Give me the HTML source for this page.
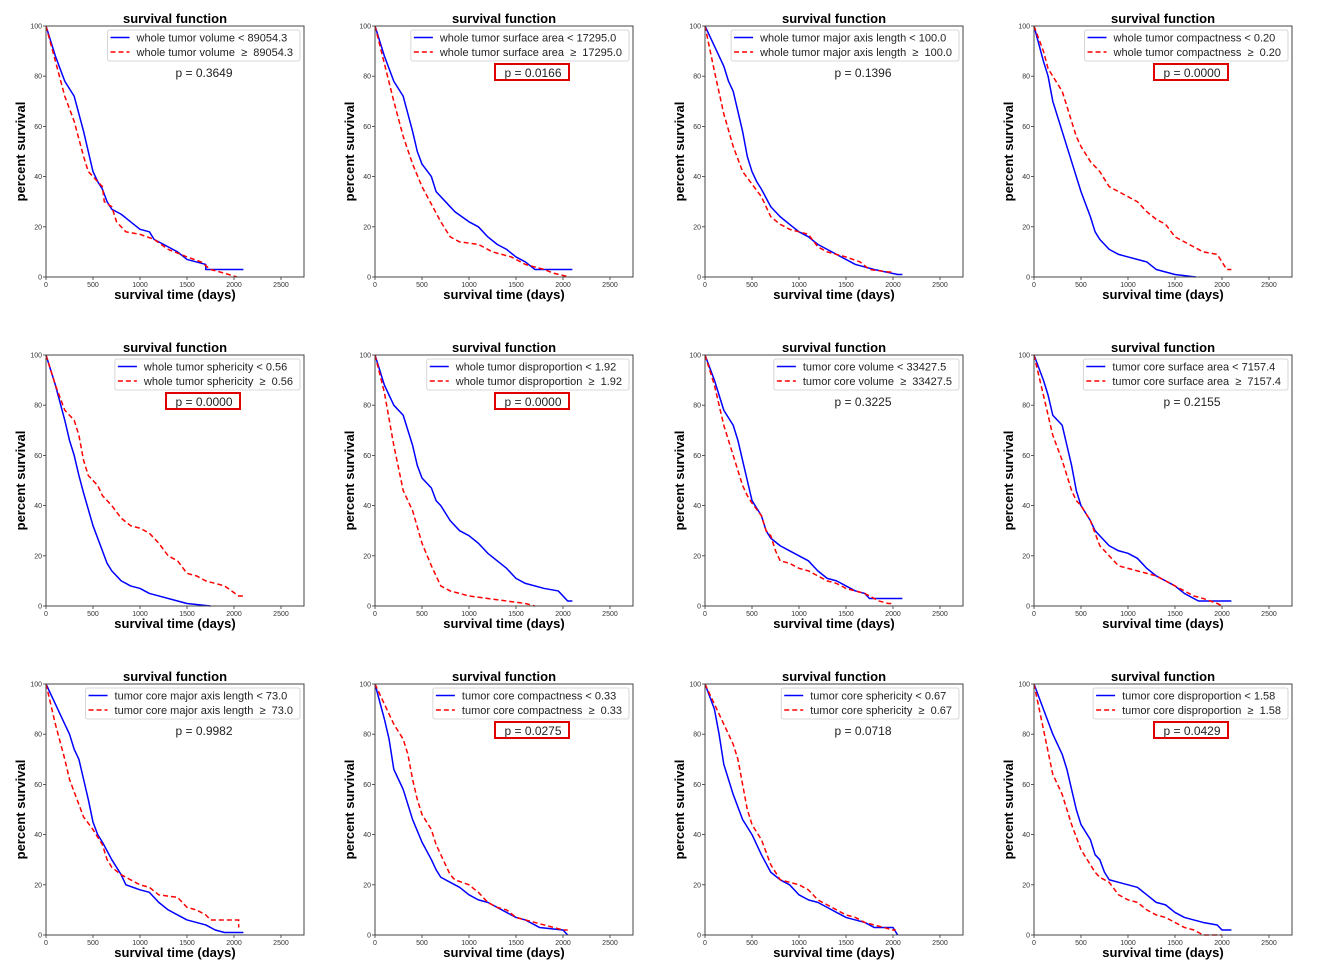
<!DOCTYPE html>
<html><head><meta charset="utf-8"><style>
body{margin:0;background:#fff;}
svg{display:block;font-family:"Liberation Sans","DejaVu Sans",sans-serif;}
</style></head><body>
<svg id="fig" width="1319" height="975" viewBox="0 0 1319 975"></svg>
<script>
const xTicks=[0,500,1000,1500,2000,2500];
const yTicks=[0,20,40,60,80,100];
const labelsLow=["whole tumor volume < 89054.3","whole tumor surface area < 17295.0","whole tumor major axis length < 100.0","whole tumor compactness < 0.20","whole tumor sphericity < 0.56","whole tumor disproportion < 1.92","tumor core volume < 33427.5","tumor core surface area < 7157.4","tumor core major axis length < 73.0","tumor core compactness < 0.33","tumor core sphericity < 0.67","tumor core disproportion < 1.58"];
const labelsHigh=["whole tumor volume  \u2265  89054.3","whole tumor surface area  \u2265  17295.0","whole tumor major axis length  \u2265  100.0","whole tumor compactness  \u2265  0.20","whole tumor sphericity  \u2265  0.56","whole tumor disproportion  \u2265  1.92","tumor core volume  \u2265  33427.5","tumor core surface area  \u2265  7157.4","tumor core major axis length  \u2265  73.0","tumor core compactness  \u2265  0.33","tumor core sphericity  \u2265  0.67","tumor core disproportion  \u2265  1.58"];
const pValues=["0.3649","0.0166","0.1396","0.0000","0.0000","0.0000","0.3225","0.2155","0.9982","0.0275","0.0718","0.0429"];
const significant=[false,true,false,true,true,true,false,false,false,true,false,true];
const blue1=[[0,100],[100,88],[200,78],[300,72],[350,65],[400,58],[450,50],[500,42],[550,38],[600,35],[650,30],[700,27],[800,25],[900,22],[1000,19],[1100,18],[1150,15],[1300,12],[1400,10],[1500,7],[1700,5],[1700,3],[2100,3]];
const red1=[[0,100],[100,86],[200,72],[300,62],[400,48],[450,42],[500,40],[600,36],[620,30],[700,28],[750,22],[850,18],[1000,17],[1150,15],[1300,11],[1500,8],[1650,6],[1750,3],[1900,1.5],[2030,0]];
const blue2=[[0,100],[100,88],[200,78],[300,72],[350,65],[400,58],[450,50],[500,45],[600,40],[650,34],[750,30],[850,26],[1000,22],[1100,20],[1200,16],[1300,13],[1400,11],[1500,8],[1600,6],[1700,3],[2100,3]];
const red2=[[0,100],[100,85],[200,70],[300,56],[400,45],[500,36],[600,29],[700,22],[800,16],[900,14],[1100,13],[1250,10],[1450,8],[1600,5],[1800,3],[1900,1.5],[2070,0]];
const blue3=[[0,100],[100,92],[200,84],[250,78],[300,74],[350,66],[400,58],[450,48],[500,42],[550,38],[600,35],[700,28],[800,24],[900,21],[1000,18],[1100,16],[1200,13],[1300,11],[1400,9],[1500,7],[1600,5],[1800,3],[2050,1],[2100,1]];
const red3=[[0,100],[100,82],[200,65],[300,52],[400,42],[500,37],[600,32],[700,24],[800,21],[900,19],[1100,17],[1200,12],[1300,10],[1500,8],[1650,6],[1750,3],[1950,2],[2000,2]];
const blue4=[[0,100],[100,86],[150,80],[200,70],[300,58],[400,46],[500,34],[600,24],[650,18],[700,15],[800,11],[900,9],[1000,8],[1200,6],[1300,3],[1500,1],[1720,0]];
const red4=[[0,100],[100,90],[150,83],[200,80],[300,74],[400,62],[450,56],[500,52],[600,46],[700,42],[800,36],[900,34],[1000,32],[1100,30],[1200,26],[1300,23],[1400,21],[1500,16],[1600,14],[1700,12],[1800,10],[1950,9],[2050,3],[2100,3]];
const blue5=[[0,100],[100,88],[200,74],[250,66],[300,60],[350,52],[400,45],[500,32],[600,22],[650,17],[700,14],[800,10],[900,8],[1000,7],[1100,5],[1200,4],[1400,2],[1500,1],[1750,0]];
const red5=[[0,100],[100,88],[200,78],[300,74],[350,68],[400,58],[450,52],[550,48],[600,44],[700,40],[800,35],[900,32],[1000,31],[1100,29],[1200,25],[1300,20],[1400,18],[1500,13],[1600,12],[1700,10],[1800,9],[1900,8],[2050,4],[2100,4]];
const blue6=[[0,100],[100,88],[200,80],[300,76],[400,64],[450,56],[500,51],[600,47],[650,42],[700,40],[800,34],[900,30],[1000,28],[1100,25],[1200,21],[1300,18],[1400,15],[1500,11],[1600,9],[1800,7],[1950,6],[2050,2],[2100,2]];
const red6=[[0,100],[100,85],[200,64],[250,55],[300,46],[400,38],[500,25],[600,16],[650,12],[700,8],[800,6],[1000,4],[1200,3],[1400,2],[1600,1],[1700,0]];
const blue7=[[0,100],[100,90],[200,78],[300,72],[350,66],[400,58],[450,50],[500,42],[600,36],[650,30],[700,27],[800,24],[900,22],[1000,20],[1100,18],[1200,14],[1300,11],[1400,10],[1500,8],[1600,6],[1700,5],[1750,3],[2100,3]];
const red7=[[0,100],[100,88],[200,72],[300,60],[400,48],[450,44],[500,41],[600,36],[650,30],[700,28],[750,22],[800,18],[900,17],[1000,15],[1100,14],[1200,12],[1300,10],[1400,9],[1500,7],[1600,6],[1700,5],[1850,2],[1950,1],[2000,1]];
const blue8=[[0,100],[100,90],[150,84],[200,76],[300,72],[350,64],[400,56],[450,46],[500,40],[600,34],[650,30],[700,28],[800,24],[900,22],[1000,21],[1100,19],[1200,15],[1300,12],[1400,10],[1500,8],[1600,5],[1750,2],[2100,2]];
const red8=[[0,100],[100,84],[200,68],[300,58],[400,46],[450,42],[500,40],[600,34],[700,24],[800,20],[900,16],[1000,15],[1100,14],[1200,13],[1300,12],[1400,10],[1500,8],[1600,6],[1700,4],[1800,3],[1950,1],[2000,0]];
const blue9=[[0,100],[100,92],[200,84],[250,80],[300,74],[350,70],[400,62],[450,54],[500,45],[550,40],[600,37],[700,30],[800,24],[850,20],[1000,18],[1100,17],[1200,13],[1300,10],[1400,8],[1500,6],[1600,5],[1700,4],[1800,2],[1900,1],[2100,1]];
const red9=[[0,100],[100,84],[200,70],[250,62],[300,57],[400,47],[500,42],[600,36],[650,30],[700,27],[800,24],[900,22],[1000,20],[1100,19],[1200,16],[1400,15],[1500,11],[1600,10],[1700,8],[1750,6],[2050,6],[2050,3]];
const blue10=[[0,100],[100,86],[150,78],[200,66],[250,62],[300,58],[400,46],[500,37],[600,30],[650,26],[700,23],[800,21],[900,19],[1000,16],[1100,14],[1200,13],[1300,11],[1400,9],[1500,7],[1600,6],[1750,3],[2000,2],[2050,0]];
const red10=[[0,100],[100,92],[200,84],[300,78],[350,72],[400,62],[450,54],[500,48],[600,42],[650,36],[700,32],[800,24],[850,22],[1000,20],[1100,17],[1200,13],[1300,11],[1400,10],[1500,7],[1600,6],[1700,5],[1800,4],[1900,3],[2000,2],[2050,2]];
const blue11=[[0,100],[100,90],[150,80],[200,68],[250,62],[300,56],[400,46],[500,40],[600,32],[700,25],[800,22],[900,20],[1000,16],[1100,14],[1200,13],[1300,11],[1400,9],[1500,7],[1600,6],[1700,5],[1800,3],[2000,3],[2050,0]];
const red11=[[0,100],[100,92],[200,84],[300,76],[350,70],[400,60],[450,50],[500,44],[600,38],[650,33],[700,28],[800,22],[900,21],[1000,20],[1100,18],[1200,14],[1300,12],[1400,10],[1500,8],[1600,7],[1700,5],[1800,4],[2000,2],[2030,2]];
const blue12=[[0,100],[100,90],[200,80],[300,72],[350,66],[400,58],[450,50],[500,44],[600,38],[650,32],[700,30],[750,25],[800,22],[900,21],[1000,20],[1100,19],[1200,16],[1300,13],[1400,12],[1500,9],[1600,7],[1800,5],[1950,4],[2000,2],[2100,2]];
const red12=[[0,100],[100,82],[200,64],[300,56],[350,50],[400,44],[500,34],[600,28],[650,25],[700,23],[800,21],[900,16],[1000,14],[1100,13],[1200,10],[1300,8],[1400,7],[1500,5],[1600,3],[1700,2],[1800,0],[2000,0]];
const blueSeries=[blue1,blue2,blue3,blue4,blue5,blue6,blue7,blue8,blue9,blue10,blue11,blue12];
const redSeries=[red1,red2,red3,red4,red5,red6,red7,red8,red9,red10,red11,red12];

const NS="http://www.w3.org/2000/svg";
const svg=document.getElementById('fig');
function mk(tag,attrs,parent){const e=document.createElementNS(NS,tag);for(const k in attrs)e.setAttribute(k,attrs[k]);(parent||svg).appendChild(e);return e;}
const colX=[46,375,705,1034], rowY=[26,355,684], W=258, H=251, XMAX=2745;
for(let i=0;i<12;i++){
  const ox=colX[i%4], oy=rowY[Math.floor(i/4)];
  const sx=t=>ox+t/XMAX*W, sy=v=>oy+H-v/100*H;
  const g=mk('g',{});
  
  
  const t=mk('text',{x:ox+W/2,y:oy-3,'text-anchor':'middle','font-size':13,'font-weight':'bold',fill:'#000'},g);
  t.textContent='survival function';
  
  
  const yl=mk('text',{x:0,y:0,transform:`translate(${ox-21},${oy+H/2}) rotate(-90)`,'text-anchor':'middle','font-size':13,'font-weight':'bold'},g);
  yl.textContent='percent survival';
  
  
  const xl=mk('text',{x:ox+W/2,y:oy+H+22,'text-anchor':'middle','font-size':13,'font-weight':'bold'},g);
  xl.textContent='survival time (days)';
  
  
  xTicks.forEach(v=>{mk('line',{x1:sx(v),x2:sx(v),y1:oy+H,y2:oy+H+3,stroke:'#333','stroke-width':0.8},g);
    const tl=mk('text',{x:sx(v),y:oy+H+10,'text-anchor':'middle','font-size':7,fill:'#333'},g);tl.textContent=v;
    
    });
  yTicks.forEach(v=>{mk('line',{x1:ox-3,x2:ox,y1:sy(v),y2:sy(v),stroke:'#333','stroke-width':0.8},g);
    const tl=mk('text',{x:ox-4,y:sy(v)+2.5,'text-anchor':'end','font-size':7,fill:'#333'},g);tl.textContent=v;
    
    });
  function linePath(d){let s=`M${sx(d[0][0])},${sy(d[0][1])}`;for(let k=1;k<d.length;k++)s+=`L${sx(d[k][0])},${sy(d[k][1])}`;return s;}
  const bp=mk('path',{d:linePath(blueSeries[i]),fill:'none',stroke:'#0000ff','stroke-width':1.5,'stroke-linejoin':'round'},g);
  
  
  const rp=mk('path',{d:linePath(redSeries[i]),fill:'none',stroke:'#ff0000','stroke-width':1.5,'stroke-dasharray':'5,3'},g);
  
  
  mk('rect',{x:ox,y:oy,width:W,height:H,fill:'none',stroke:'#444','stroke-width':1},g);
  const lg=mk('g',{},g);
  
  
  const box=mk('rect',{x:0,y:oy+4,width:10,height:31,rx:2,fill:'#fff','fill-opacity':0.8,stroke:'#ccc','stroke-width':0.8},lg);
  const t1=mk('text',{x:0,y:oy+15.5,'font-size':11,fill:'#222'},lg);t1.textContent=labelsLow[i];
  t1.style.whiteSpace='pre';
  
  
  const t2=mk('text',{x:0,y:oy+30,'font-size':11,fill:'#222'},lg);t2.textContent=labelsHigh[i];
  t2.style.whiteSpace='pre';
  
  
  const tw=Math.max(t1.getComputedTextLength(),t2.getComputedTextLength());
  const right=ox+W-4, left=right-tw-36;
  box.setAttribute('x',left);box.setAttribute('width',right-left);
  t1.setAttribute('x',left+29);t2.setAttribute('x',left+29);
  mk('line',{x1:left+3,x2:left+22,y1:oy+11.5,y2:oy+11.5,stroke:'#0000ff','stroke-width':1.5},lg);
  mk('line',{x1:left+3,x2:left+22,y1:oy+26,y2:oy+26,stroke:'#ff0000','stroke-width':1.5,'stroke-dasharray':'5,3'},lg);
  const pt=mk('text',{x:ox+158,y:oy+51,'text-anchor':'middle','font-size':12,fill:'#222'},g);
  pt.textContent='p = '+pValues[i];
  
  
  if(significant[i]){
    const r=mk('rect',{x:ox+120,y:oy+38,width:74,height:16,fill:'none',stroke:'#e00000','stroke-width':2},g);
    
    
  }
}
</script>
</body></html>
